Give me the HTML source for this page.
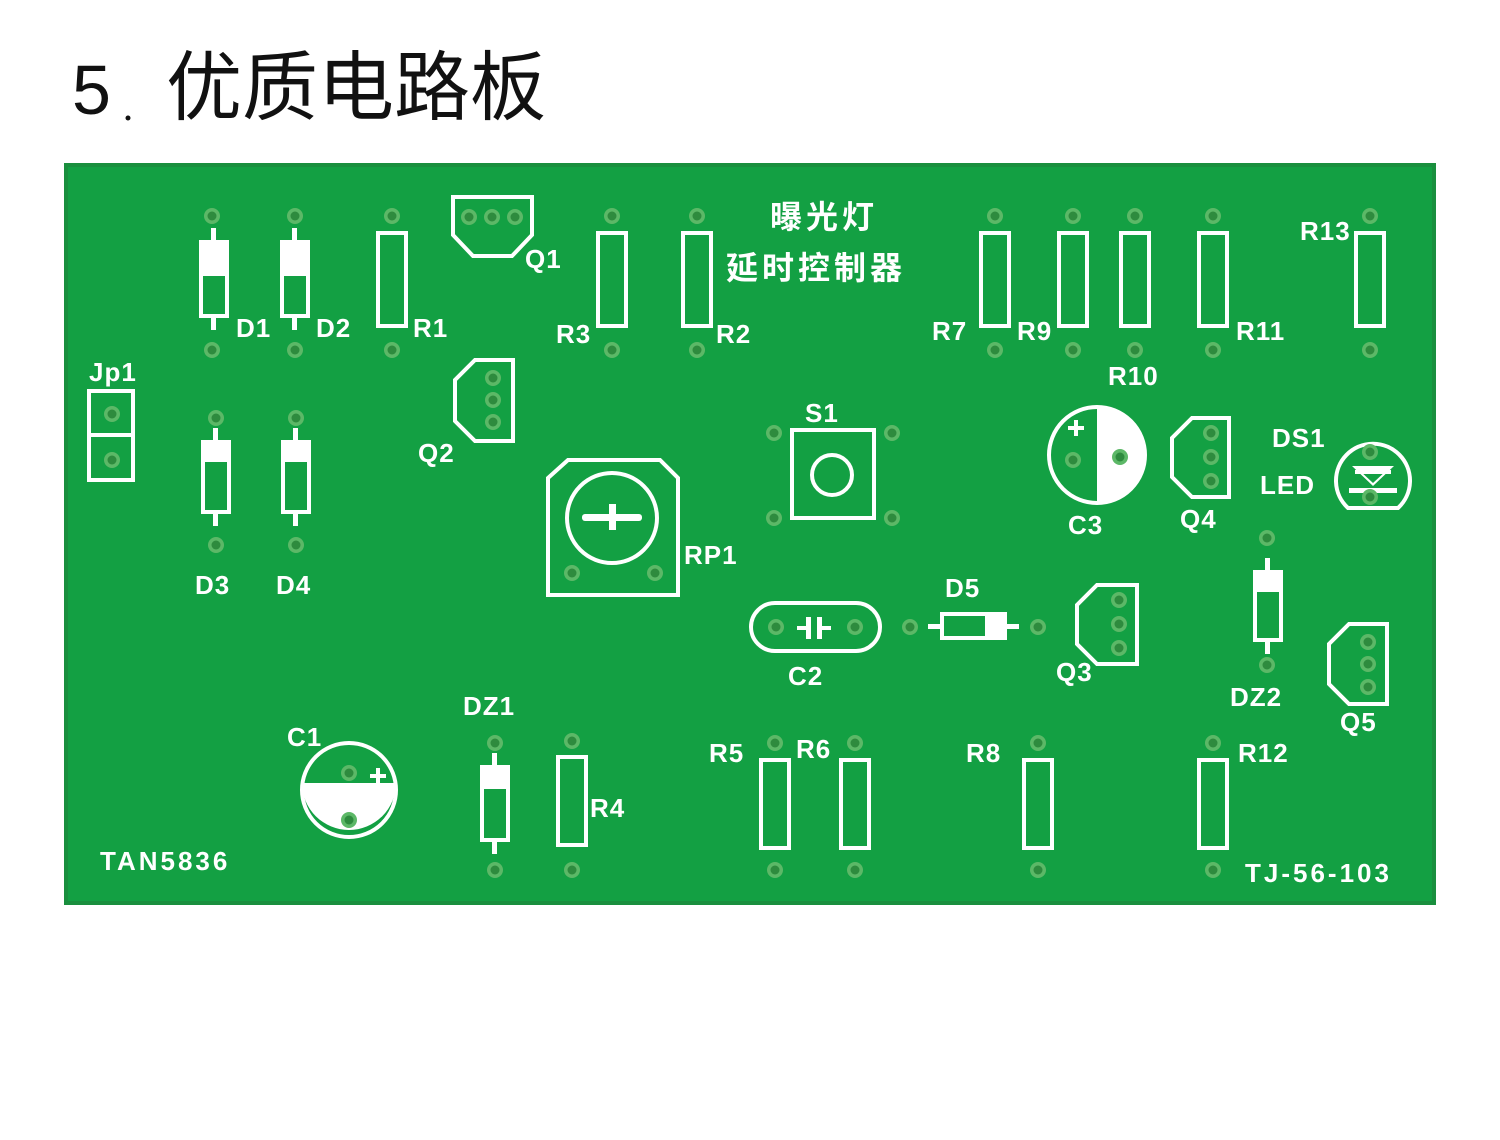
<!DOCTYPE html>
<html><head><meta charset="utf-8"><style>
html,body{margin:0;padding:0;background:#fff;}
body{width:1500px;height:1140px;overflow:hidden;position:relative;}
svg{position:absolute;left:0;top:0;}
.t{font-family:"Liberation Sans","Noto Sans CJK SC",sans-serif;fill:#fff;font-weight:bold;}
</style></head><body>
<svg width="1500" height="1140" viewBox="0 0 1500 1140">
<defs>
<g id="h"><circle r="8" fill="#5cb867"/><circle r="4.5" fill="#2e8b3e"/></g>
</defs>
<text x="72" y="114" font-family="Liberation Sans,'Noto Sans CJK SC',sans-serif" font-size="70" fill="#111">5</text>
<circle cx="128" cy="118" r="2.5" fill="#111"/>
<text x="166" y="114" font-family="'Noto Sans CJK SC',sans-serif" font-size="76" fill="#111">优质电路板</text>
<rect x="66" y="165" width="1368" height="738" fill="#13a043"/>
<rect x="66" y="165" width="1368" height="738" fill="none" stroke="#1a8f3e" stroke-width="4"/>
<g fill="none" stroke="#fff" stroke-width="4">
<rect x="378" y="233" width="28" height="93"/><rect x="598" y="233" width="28" height="93"/><rect x="683" y="233" width="28" height="93"/>
<rect x="981" y="233" width="28" height="93"/><rect x="1059" y="233" width="28" height="93"/><rect x="1121" y="233" width="28" height="93"/>
<rect x="1199" y="233" width="28" height="93"/><rect x="1356" y="233" width="28" height="93"/>
<rect x="558" y="757" width="28" height="88"/><rect x="761" y="760" width="28" height="88"/><rect x="841" y="760" width="28" height="88"/>
<rect x="1024" y="760" width="28" height="88"/><rect x="1199" y="760" width="28" height="88"/>
<polygon points="475,360 513,360 513,441 475,441 455,421 455,380"/>
<polygon points="453,197 532,197 532,235 512,256 473,256 453,235"/>
<polygon points="1192,418 1229,418 1229,497 1192,497 1172,477 1172,438"/>
<polygon points="1097,585 1137,585 1137,664 1097,664 1077,644 1077,605"/>
<polygon points="1349,624 1387,624 1387,704 1349,704 1329,684 1329,644"/>
<polygon points="548,478 568,460 660,460 678,478 678,595 548,595"/>
<circle cx="612" cy="518" r="45"/>
<rect x="792" y="430" width="82" height="88"/><circle cx="832" cy="475" r="20"/>
<circle cx="1097" cy="455" r="48"/>
<circle cx="349" cy="790" r="47"/>
<rect x="751" y="603" width="129" height="48" rx="24"/>
<path d="M1348,508 A37,37 0 1 1 1398,508 Z"/>
<rect x="89" y="391" width="44" height="89"/><line x1="89" y1="435" x2="133" y2="435"/>
<rect x="201" y="242" width="26" height="74"/><rect x="282" y="242" width="26" height="74"/>
<rect x="203" y="442" width="26" height="70"/><rect x="283" y="442" width="26" height="70"/>
<rect x="482" y="767" width="26" height="73"/><rect x="1255" y="572" width="26" height="68"/>
<rect x="942" y="614" width="63" height="24"/>
</g>
<g fill="#fff">
<path d="M1097,407 A48,48 0 0 1 1097,503 Z"/>
<path d="M302,783 L396,783 A47,47 0 0 1 302,783 Z"/>
<rect x="201" y="242" width="26" height="34"/><rect x="282" y="242" width="26" height="34"/>
<rect x="203" y="442" width="26" height="20"/><rect x="283" y="442" width="26" height="20"/>
<rect x="482" y="767" width="26" height="22"/><rect x="1255" y="572" width="26" height="20"/>
<rect x="985" y="614" width="20" height="24"/>
<rect x="211" y="228" width="5" height="14"/><rect x="211" y="316" width="5" height="14"/>
<rect x="292" y="228" width="5" height="14"/><rect x="292" y="316" width="5" height="14"/>
<rect x="213" y="428" width="5" height="14"/><rect x="213" y="512" width="5" height="14"/>
<rect x="293" y="428" width="5" height="14"/><rect x="293" y="512" width="5" height="14"/>
<rect x="492" y="753" width="5" height="14"/><rect x="492" y="840" width="5" height="14"/>
<rect x="1265" y="558" width="5" height="14"/><rect x="1265" y="640" width="5" height="14"/>
<rect x="928" y="624" width="14" height="5"/><rect x="1005" y="624" width="14" height="5"/>
<rect x="582" y="514" width="60" height="7" rx="3"/><rect x="609" y="504" width="7" height="26"/>
<rect x="806" y="617" width="5" height="22"/><rect x="817" y="617" width="5" height="22"/>
<rect x="797" y="626" width="10" height="4"/><rect x="821" y="626" width="10" height="4"/>
<rect x="1349" y="488" width="48" height="5"/>
<polygon points="1352,466 1394,466 1373,486"/>
<rect x="1074" y="420" width="4" height="16"/><rect x="1068" y="426" width="16" height="4"/>
<rect x="376" y="768" width="4" height="16"/><rect x="370" y="774" width="16" height="4"/>
</g>
<polygon points="1359,470 1387,470 1373,483" fill="#13a043"/>
<rect x="1355" y="470" width="36" height="4" fill="#fff"/>
<g>
<use href="#h" x="212" y="216"/><use href="#h" x="212" y="350"/><use href="#h" x="295" y="216"/><use href="#h" x="295" y="350"/>
<use href="#h" x="392" y="216"/><use href="#h" x="392" y="350"/><use href="#h" x="612" y="216"/><use href="#h" x="612" y="350"/>
<use href="#h" x="697" y="216"/><use href="#h" x="697" y="350"/><use href="#h" x="995" y="216"/><use href="#h" x="995" y="350"/>
<use href="#h" x="1073" y="216"/><use href="#h" x="1073" y="350"/><use href="#h" x="1135" y="216"/><use href="#h" x="1135" y="350"/>
<use href="#h" x="1213" y="216"/><use href="#h" x="1213" y="350"/><use href="#h" x="1370" y="216"/><use href="#h" x="1370" y="350"/>
<use href="#h" x="216" y="418"/><use href="#h" x="216" y="545"/><use href="#h" x="296" y="418"/><use href="#h" x="296" y="545"/>
<use href="#h" x="495" y="743"/><use href="#h" x="495" y="870"/><use href="#h" x="572" y="741"/><use href="#h" x="572" y="870"/>
<use href="#h" x="775" y="743"/><use href="#h" x="775" y="870"/><use href="#h" x="855" y="743"/><use href="#h" x="855" y="870"/>
<use href="#h" x="1038" y="743"/><use href="#h" x="1038" y="870"/><use href="#h" x="1213" y="743"/><use href="#h" x="1213" y="870"/>
<use href="#h" x="1267" y="538"/><use href="#h" x="1267" y="665"/><use href="#h" x="910" y="627"/><use href="#h" x="1038" y="627"/>
<use href="#h" x="469" y="217"/><use href="#h" x="492" y="217"/><use href="#h" x="515" y="217"/>
<use href="#h" x="493" y="378"/><use href="#h" x="493" y="400"/><use href="#h" x="493" y="422"/>
<use href="#h" x="1211" y="433"/><use href="#h" x="1211" y="457"/><use href="#h" x="1211" y="481"/>
<use href="#h" x="1119" y="600"/><use href="#h" x="1119" y="624"/><use href="#h" x="1119" y="648"/>
<use href="#h" x="1368" y="642"/><use href="#h" x="1368" y="664"/><use href="#h" x="1368" y="687"/>
<use href="#h" x="572" y="573"/><use href="#h" x="655" y="573"/>
<use href="#h" x="774" y="433"/><use href="#h" x="892" y="433"/><use href="#h" x="774" y="518"/><use href="#h" x="892" y="518"/>
<use href="#h" x="1073" y="460"/><use href="#h" x="1120" y="457"/>
<use href="#h" x="349" y="773"/><use href="#h" x="349" y="820"/>
<use href="#h" x="776" y="627"/><use href="#h" x="855" y="627"/>
<use href="#h" x="1370" y="452"/><use href="#h" x="1370" y="497"/>
<use href="#h" x="112" y="414"/><use href="#h" x="112" y="460"/>
</g>
<g class="t" font-size="26" letter-spacing="1">
<text x="236" y="337">D1</text><text x="316" y="337">D2</text><text x="413" y="337">R1</text>
<text x="525" y="268">Q1</text><text x="556" y="343">R3</text><text x="716" y="343">R2</text>
<text x="932" y="340">R7</text><text x="1017" y="340">R9</text><text x="1236" y="340">R11</text>
<text x="1300" y="240">R13</text><text x="1108" y="385">R10</text>
<text x="89" y="381">Jp1</text><text x="418" y="462">Q2</text>
<text x="195" y="594">D3</text><text x="276" y="594">D4</text><text x="684" y="564">RP1</text>
<text x="805" y="422">S1</text><text x="1068" y="534">C3</text><text x="1180" y="528">Q4</text>
<text x="1272" y="447">DS1</text><text x="1260" y="494">LED</text>
<text x="945" y="597">D5</text><text x="788" y="685">C2</text><text x="1056" y="681">Q3</text>
<text x="1230" y="706">DZ2</text><text x="1340" y="731">Q5</text>
<text x="463" y="715">DZ1</text><text x="287" y="746">C1</text><text x="590" y="817">R4</text>
<text x="709" y="762">R5</text><text x="796" y="758">R6</text><text x="966" y="762">R8</text><text x="1238" y="762">R12</text>
<text x="100" y="870" letter-spacing="3">TAN5836</text><text x="1245" y="882" letter-spacing="3">TJ-56-103</text>
</g>
<g class="t" font-size="32" style="font-family:'Noto Sans CJK SC',sans-serif">
<text x="770" y="228" letter-spacing="4">曝光灯</text>
<text x="726" y="279" letter-spacing="4">延时控制器</text>
</g>
</svg>
</body></html>
